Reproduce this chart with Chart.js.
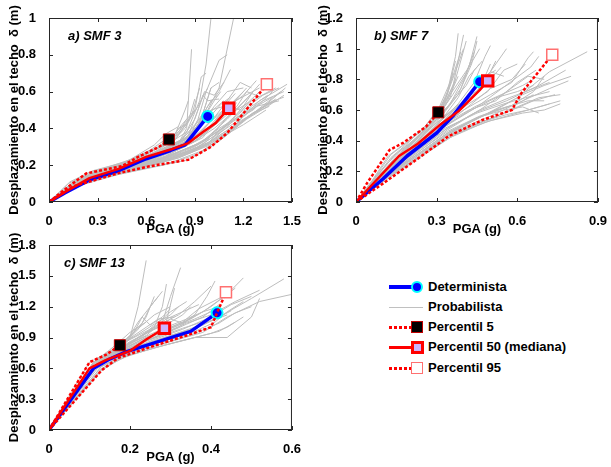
<!DOCTYPE html>
<html>
<head>
<meta charset="utf-8">
<title>Desplazamiento en el techo vs PGA</title>
<script src="https://cdn.jsdelivr.net/npm/chart.js@4.4.0/dist/chart.umd.min.js"></script>
<style>
  body { margin: 0; background: #fff; width: 611px; height: 467px; position: relative; overflow: hidden;
         font-family: 'Liberation Sans', Arial, sans-serif; }
  canvas { position: absolute; }
  .lg { position: absolute; }
  .lg-text { position: absolute; left: 428px; font-weight: bold; font-size: 13px; line-height: 16px; color: #000; white-space: nowrap; }
  .dots { background: repeating-linear-gradient(90deg, #ff0000 0 3px, transparent 3px 5px); }
</style>
</head>
<body>
<canvas id="chartA" width="305" height="240" style="left:0;top:0"></canvas>
<canvas id="chartB" width="306" height="240" style="left:305px;top:0"></canvas>
<canvas id="chartC" width="305" height="237" style="left:0;top:230px"></canvas>

<!-- legend -->
<div class="lg" style="left:389px;top:285px;width:26px;height:4px;background:#0000ff"></div>
<div class="lg" style="left:411px;top:281px;width:8px;height:8px;border:2px solid #00ffff;border-radius:50%;background:#0000ff"></div>
<div class="lg-text" style="top:279px">Determinista</div>

<div class="lg" style="left:389px;top:307px;width:34px;height:1px;background:#c0c0c0"></div>
<div class="lg-text" style="top:299px">Probabilista</div>

<div class="lg dots" style="left:389px;top:326px;width:22px;height:2.5px"></div>
<div class="lg" style="left:411px;top:321px;width:10px;height:10px;border:1px solid #c00000;background:#000"></div>
<div class="lg-text" style="top:319px">Percentil 5</div>

<div class="lg" style="left:389px;top:346px;width:22px;height:2.5px;background:#ff0000"></div>
<div class="lg" style="left:411px;top:341px;width:7px;height:7px;border:3px solid #ff0000;background:#ccb3ff"></div>
<div class="lg-text" style="top:339px">Percentil 50 (mediana)</div>

<div class="lg dots" style="left:389px;top:367px;width:22px;height:2.5px"></div>
<div class="lg" style="left:411px;top:362px;width:10px;height:10px;border:1.5px solid #ff7070;background:#fff"></div>
<div class="lg-text" style="top:360px">Percentil 95</div>

<script>
// ---------- a) SMF 3 ----------
const detA_x = [0, 0.1, 0.25, 0.43, 0.6, 0.75, 0.84, 0.98];
const detA_y = [0, 0.05, 0.12, 0.17, 0.235, 0.28, 0.31, 0.465];
const medA_x = [0, 0.1, 0.25, 0.43, 0.6, 0.75, 0.86, 0.95, 1.03, 1.11];
const medA_y = [0, 0.055, 0.13, 0.18, 0.245, 0.285, 0.32, 0.38, 0.43, 0.51];
const p5A_x = [0, 0.1, 0.23, 0.45, 0.55, 0.68, 0.74];
const p5A_y = [0, 0.07, 0.155, 0.195, 0.245, 0.3, 0.34];
const p95A_x = [0, 0.15, 0.43, 0.62, 0.86, 1.0, 1.1, 1.185, 1.345];
const p95A_y = [0, 0.085, 0.157, 0.194, 0.23, 0.3, 0.375, 0.465, 0.64];
const probA = [
  [[0,0],[0.2,0.13],[0.4,0.18],[0.6,0.25],[0.8,0.32],[0.85,0.4],[0.88,0.83]],
  [[0,0],[0.22,0.14],[0.45,0.19],[0.65,0.27],[0.85,0.38],[0.93,0.55],[0.97,0.75],[1.0,1.0]],
  [[0,0],[0.2,0.12],[0.42,0.17],[0.62,0.24],[0.85,0.33],[0.98,0.5],[1.05,0.62],[1.14,1.0]],
  [[0,0],[0.25,0.14],[0.5,0.2],[0.7,0.27],[0.9,0.37],[0.95,0.48],[1.0,0.62]],
  [[0,0],[0.2,0.11],[0.45,0.17],[0.7,0.24],[0.92,0.34],[1.05,0.47],[1.2,0.6]],
  [[0,0],[0.2,0.12],[0.43,0.16],[0.7,0.22],[0.95,0.3],[1.15,0.42],[1.3,0.55],[1.47,0.64]],
  [[0,0],[0.22,0.12],[0.45,0.17],[0.75,0.23],[1.0,0.32],[1.2,0.44],[1.43,0.6]],
  [[0,0],[0.18,0.11],[0.42,0.16],[0.68,0.22],[0.95,0.3],[1.1,0.38],[1.3,0.5],[1.4,0.56]],
  [[0,0],[0.25,0.15],[0.45,0.2],[0.62,0.27],[0.75,0.33],[0.8,0.4],[0.85,0.42]],
  [[0,0],[0.22,0.13],[0.45,0.18],[0.68,0.26],[0.88,0.36],[0.98,0.52],[1.05,0.6],[1.12,0.72]],
  [[0,0],[0.2,0.12],[0.4,0.17],[0.66,0.25],[0.9,0.34],[1.02,0.46],[1.15,0.55],[1.3,0.62]],
  [[0,0],[0.22,0.12],[0.47,0.18],[0.72,0.25],[0.95,0.35],[1.08,0.5],[1.2,0.58],[1.28,0.66]],
  [[0,0],[0.21,0.13],[0.44,0.18],[0.66,0.26],[0.86,0.36],[0.92,0.5],[0.96,0.6],[1.02,0.58],[1.08,0.65]],
  [[0,0],[0.2,0.12],[0.43,0.17],[0.7,0.24],[0.94,0.32],[1.1,0.42],[1.25,0.52],[1.35,0.58]],
  [[0,0],[0.23,0.14],[0.46,0.19],[0.64,0.26],[0.82,0.34],[0.9,0.45],[0.95,0.58],[0.98,0.55],[1.05,0.56]],
  [[0,0],[0.2,0.12],[0.45,0.17],[0.72,0.24],[0.98,0.34],[1.12,0.48],[1.25,0.55],[1.4,0.62]],
  [[0,0],[0.22,0.13],[0.44,0.18],[0.65,0.25],[0.88,0.34],[1.0,0.44],[1.12,0.52],[1.18,0.5],[1.3,0.6]],
  [[0,0],[0.19,0.12],[0.4,0.17],[0.62,0.24],[0.8,0.31],[0.9,0.4],[0.97,0.47],[1.08,0.55]],
  [[0,0],[0.21,0.12],[0.43,0.17],[0.7,0.23],[0.9,0.3],[1.05,0.4],[1.18,0.47],[1.32,0.55],[1.45,0.6]],
  [[0,0],[0.23,0.14],[0.43,0.19],[0.63,0.25],[0.8,0.32],[0.9,0.42],[0.95,0.48],[1.0,0.62],[1.05,0.65]],
  [[0,0],[0.2,0.13],[0.42,0.18],[0.67,0.26],[0.87,0.35],[0.95,0.44],[1.0,0.5],[1.08,0.52],[1.15,0.59]],
  [[0,0],[0.22,0.12],[0.46,0.17],[0.75,0.24],[1.0,0.33],[1.15,0.45],[1.3,0.53],[1.38,0.57]],
  [[0,0],[0.15,0.11],[0.3,0.17],[0.5,0.23],[0.65,0.31],[0.72,0.37],[0.8,0.41]],
  [[0,0],[0.2,0.12],[0.45,0.18],[0.7,0.26],[0.86,0.34],[0.92,0.45],[0.97,0.6],[1.05,0.77],[1.1,0.8]],
  [[0,0],[0.21,0.12],[0.43,0.17],[0.68,0.25],[0.9,0.35],[1.03,0.47],[1.1,0.55],[1.18,0.65],[1.25,0.62]],
  [[0,0],[0.15,0.1],[0.3,0.15],[0.5,0.2],[0.7,0.27],[0.85,0.35],[0.95,0.45],[1.02,0.55],[1.06,0.6]],
  [[0,0],[0.25,0.13],[0.5,0.18],[0.75,0.25],[0.95,0.33],[1.1,0.45],[1.22,0.56],[1.3,0.64]],
  [[0,0],[0.2,0.13],[0.4,0.19],[0.6,0.26],[0.78,0.34],[0.86,0.44],[0.92,0.52],[0.98,0.62]],
  [[0,0],[0.22,0.11],[0.5,0.17],[0.8,0.24],[1.05,0.33],[1.22,0.45],[1.35,0.52],[1.45,0.58]],
  [[0,0],[0.18,0.12],[0.38,0.18],[0.58,0.25],[0.76,0.33],[0.84,0.4],[0.9,0.5],[0.94,0.68],[0.97,0.7]],
  [[0,0],[0.24,0.14],[0.48,0.19],[0.7,0.26],[0.9,0.33],[1.0,0.4],[1.08,0.47],[1.16,0.54]],
  [[0,0],[0.2,0.12],[0.44,0.17],[0.66,0.24],[0.88,0.32],[1.02,0.4],[1.14,0.49],[1.24,0.58]],
  [[0,0],[0.23,0.13],[0.46,0.17],[0.72,0.23],[0.96,0.31],[1.12,0.4],[1.26,0.48],[1.36,0.52]],
  [[0,0],[0.21,0.13],[0.42,0.18],[0.64,0.25],[0.84,0.34],[0.94,0.42],[1.02,0.52],[1.1,0.6],[1.2,0.62]],
  [[0,0],[0.19,0.11],[0.41,0.16],[0.66,0.22],[0.9,0.29],[1.06,0.38],[1.18,0.45],[1.28,0.52],[1.42,0.55]],
  [[0,0],[0.22,0.14],[0.44,0.19],[0.62,0.26],[0.8,0.33],[0.88,0.39],[0.94,0.46],[1.0,0.55],[1.04,0.58]],
  [[0,0],[0.2,0.12],[0.45,0.18],[0.68,0.25],[0.9,0.33],[1.04,0.43],[1.16,0.52],[1.22,0.6],[1.28,0.58]],
  [[0,0],[0.16,0.11],[0.35,0.17],[0.55,0.24],[0.72,0.32],[0.8,0.37],[0.86,0.44],[0.9,0.56]],
  [[0,0],[0.22,0.12],[0.45,0.17],[0.7,0.24],[0.92,0.31],[1.08,0.41],[1.2,0.5],[1.32,0.58],[1.42,0.62]],
  [[0,0],[0.2,0.13],[0.43,0.18],[0.66,0.26],[0.85,0.35],[0.93,0.43],[1.0,0.47],[1.06,0.53],[1.12,0.57]],
  [[0,0],[0.15,0.08],[0.43,0.15],[0.65,0.19],[0.86,0.23],[1.0,0.3],[1.12,0.38],[1.25,0.48],[1.4,0.55]],
  [[0,0],[0.2,0.1],[0.45,0.16],[0.7,0.2],[0.92,0.26],[1.05,0.34],[1.18,0.44],[1.3,0.5],[1.46,0.62]],
  [[0,0],[0.18,0.1],[0.42,0.16],[0.62,0.2],[0.82,0.25],[0.98,0.32],[1.1,0.42],[1.2,0.52],[1.26,0.6]],
  [[0,0],[0.2,0.11],[0.45,0.16],[0.66,0.21],[0.88,0.27],[1.02,0.36],[1.14,0.46],[1.24,0.54]],
  [[0,0],[0.16,0.09],[0.4,0.15],[0.6,0.19],[0.8,0.24],[0.96,0.3],[1.08,0.36],[1.2,0.42],[1.34,0.5]],
  [[0,0],[0.22,0.11],[0.48,0.16],[0.74,0.21],[0.95,0.28],[1.1,0.37],[1.22,0.46],[1.36,0.54],[1.45,0.57]],
  [[0,0],[0.12,0.1],[0.25,0.16],[0.45,0.21],[0.62,0.28],[0.72,0.34],[0.8,0.38],[0.85,0.45]],
  [[0,0],[0.14,0.1],[0.28,0.16],[0.5,0.22],[0.66,0.29],[0.76,0.35],[0.82,0.42],[0.9,0.5]],
  [[0,0],[0.13,0.11],[0.27,0.17],[0.48,0.22],[0.6,0.27],[0.7,0.31],[0.78,0.37],[0.84,0.5],[0.86,0.55]],
  [[0,0],[0.16,0.11],[0.32,0.17],[0.52,0.23],[0.68,0.3],[0.78,0.36],[0.88,0.47],[0.93,0.62]],
  [[0,0],[0.2,0.12],[0.44,0.17],[0.64,0.23],[0.84,0.3],[0.96,0.38],[1.06,0.46],[1.16,0.56],[1.22,0.62]],
  [[0,0],[0.21,0.12],[0.46,0.17],[0.68,0.23],[0.9,0.31],[1.04,0.38],[1.14,0.44],[1.26,0.5],[1.38,0.6]]
];

// ---------- b) SMF 7 ----------
const detB_x = [0, 0.1, 0.19, 0.3, 0.36, 0.46];
const detB_y = [0, 0.15, 0.3, 0.45, 0.56, 0.785];
const medB_x = [0, 0.08, 0.16, 0.23, 0.31, 0.38, 0.46, 0.49];
const medB_y = [0, 0.15, 0.3, 0.38, 0.5, 0.59, 0.73, 0.79];
const p5B_x = [0, 0.04, 0.125, 0.175, 0.26, 0.306];
const p5B_y = [0, 0.12, 0.34, 0.385, 0.49, 0.585];
const p95B_x = [0, 0.1, 0.22, 0.345, 0.47, 0.58, 0.615, 0.73];
const p95B_y = [0, 0.12, 0.27, 0.43, 0.535, 0.6, 0.71, 0.96];
const probB = [
  [[0,0],[0.1,0.2],[0.2,0.36],[0.3,0.55],[0.36,0.75],[0.4,1.09]],
  [[0,0],[0.1,0.19],[0.2,0.35],[0.3,0.52],[0.38,0.7],[0.43,0.9],[0.45,1.05]],
  [[0,0],[0.12,0.22],[0.22,0.4],[0.3,0.56],[0.34,0.72],[0.37,0.95],[0.38,1.1]],
  [[0,0],[0.1,0.18],[0.2,0.33],[0.32,0.52],[0.42,0.7],[0.5,0.85],[0.56,1.0]],
  [[0,0],[0.1,0.17],[0.2,0.31],[0.32,0.48],[0.45,0.62],[0.55,0.75],[0.65,0.88],[0.68,0.95]],
  [[0,0],[0.1,0.16],[0.22,0.3],[0.35,0.46],[0.48,0.57],[0.6,0.68],[0.72,0.85],[0.86,0.98]],
  [[0,0],[0.1,0.16],[0.22,0.29],[0.35,0.45],[0.5,0.56],[0.62,0.66],[0.72,0.74],[0.79,0.79]],
  [[0,0],[0.1,0.15],[0.22,0.28],[0.36,0.44],[0.5,0.53],[0.62,0.58],[0.7,0.6],[0.76,0.64]],
  [[0,0],[0.11,0.17],[0.22,0.31],[0.34,0.47],[0.46,0.6],[0.56,0.72],[0.64,0.82],[0.7,0.8]],
  [[0,0],[0.1,0.18],[0.2,0.33],[0.3,0.48],[0.4,0.62],[0.48,0.78],[0.52,0.92]],
  [[0,0],[0.09,0.2],[0.16,0.33],[0.24,0.44],[0.3,0.55],[0.34,0.66],[0.38,0.82]],
  [[0,0],[0.1,0.18],[0.2,0.33],[0.3,0.48],[0.42,0.6],[0.52,0.66],[0.6,0.78],[0.67,0.86]],
  [[0,0],[0.1,0.17],[0.21,0.32],[0.33,0.48],[0.45,0.58],[0.55,0.64],[0.63,0.68],[0.72,0.72]],
  [[0,0],[0.1,0.19],[0.2,0.35],[0.28,0.5],[0.35,0.64],[0.4,0.8],[0.43,0.93]],
  [[0,0],[0.11,0.19],[0.21,0.35],[0.31,0.52],[0.4,0.66],[0.46,0.78],[0.5,0.85],[0.55,0.82]],
  [[0,0],[0.1,0.17],[0.22,0.32],[0.34,0.48],[0.46,0.6],[0.57,0.68],[0.66,0.74],[0.72,0.78]],
  [[0,0],[0.1,0.16],[0.22,0.3],[0.36,0.45],[0.5,0.54],[0.6,0.62],[0.68,0.68],[0.76,0.7]],
  [[0,0],[0.1,0.2],[0.18,0.34],[0.26,0.47],[0.32,0.6],[0.36,0.7],[0.41,0.84],[0.44,0.98]],
  [[0,0],[0.1,0.18],[0.2,0.34],[0.31,0.5],[0.4,0.66],[0.46,0.74],[0.5,0.9]],
  [[0,0],[0.1,0.16],[0.22,0.3],[0.35,0.46],[0.47,0.56],[0.58,0.63],[0.66,0.72],[0.7,0.82]],
  [[0,0],[0.1,0.18],[0.2,0.34],[0.3,0.5],[0.38,0.64],[0.44,0.78],[0.48,0.95],[0.5,1.02]],
  [[0,0],[0.11,0.19],[0.22,0.36],[0.32,0.54],[0.38,0.68],[0.42,0.82],[0.46,0.9]],
  [[0,0],[0.1,0.17],[0.21,0.32],[0.32,0.48],[0.44,0.62],[0.54,0.7],[0.62,0.76],[0.66,0.8]],
  [[0,0],[0.1,0.2],[0.2,0.37],[0.28,0.52],[0.33,0.66],[0.36,0.82],[0.39,0.98]],
  [[0,0],[0.1,0.18],[0.2,0.33],[0.31,0.49],[0.41,0.63],[0.49,0.72],[0.55,0.86],[0.6,0.9]],
  [[0,0],[0.1,0.16],[0.21,0.3],[0.34,0.46],[0.46,0.56],[0.56,0.62],[0.64,0.66],[0.7,0.66]],
  [[0,0],[0.11,0.18],[0.22,0.33],[0.33,0.5],[0.43,0.64],[0.5,0.74],[0.58,0.8],[0.63,0.9]],
  [[0,0],[0.1,0.19],[0.21,0.36],[0.3,0.53],[0.36,0.66],[0.41,0.76],[0.44,0.86],[0.47,0.92]],
  [[0,0],[0.1,0.17],[0.2,0.32],[0.32,0.49],[0.43,0.6],[0.52,0.68],[0.6,0.72],[0.66,0.76]],
  [[0,0],[0.09,0.18],[0.18,0.34],[0.27,0.5],[0.34,0.62],[0.39,0.74],[0.42,0.88],[0.46,1.0]],
  [[0,0],[0.1,0.18],[0.2,0.34],[0.29,0.5],[0.37,0.62],[0.44,0.7],[0.5,0.8],[0.54,0.88]],
  [[0,0],[0.1,0.17],[0.21,0.31],[0.33,0.47],[0.44,0.58],[0.56,0.66],[0.68,0.76],[0.78,0.86]],
  [[0,0],[0.12,0.21],[0.22,0.38],[0.3,0.54],[0.35,0.68],[0.38,0.86],[0.41,1.05]],
  [[0,0],[0.1,0.18],[0.2,0.33],[0.31,0.5],[0.4,0.64],[0.45,0.72],[0.48,0.82],[0.52,0.86]],
  [[0,0],[0.1,0.13],[0.22,0.27],[0.35,0.42],[0.48,0.52],[0.6,0.58],[0.68,0.62],[0.76,0.66]],
  [[0,0],[0.1,0.14],[0.22,0.28],[0.34,0.43],[0.46,0.52],[0.56,0.57],[0.64,0.6],[0.72,0.64]],
  [[0,0],[0.1,0.14],[0.23,0.29],[0.36,0.43],[0.48,0.53],[0.58,0.6],[0.66,0.66],[0.74,0.7]],
  [[0,0],[0.1,0.15],[0.22,0.29],[0.34,0.44],[0.44,0.54],[0.52,0.6],[0.6,0.64],[0.66,0.7]],
  [[0,0],[0.11,0.15],[0.23,0.29],[0.35,0.45],[0.46,0.55],[0.54,0.62],[0.62,0.7],[0.7,0.76],[0.8,0.82]],
  [[0,0],[0.1,0.15],[0.22,0.3],[0.34,0.45],[0.45,0.55],[0.55,0.6],[0.62,0.62],[0.68,0.58]],
  [[0,0],[0.06,0.14],[0.12,0.3],[0.18,0.38],[0.25,0.48],[0.3,0.58],[0.34,0.7],[0.36,0.84]],
  [[0,0],[0.07,0.15],[0.13,0.29],[0.19,0.38],[0.26,0.5],[0.31,0.62],[0.35,0.78],[0.37,0.92]],
  [[0,0],[0.08,0.17],[0.14,0.3],[0.2,0.38],[0.27,0.5],[0.33,0.64],[0.37,0.8]],
  [[0,0],[0.07,0.16],[0.13,0.31],[0.2,0.4],[0.28,0.52],[0.33,0.66],[0.38,0.9],[0.4,1.0]],
  [[0,0],[0.08,0.16],[0.15,0.3],[0.22,0.41],[0.29,0.54],[0.35,0.7],[0.42,0.88],[0.45,1.08]],
  [[0,0],[0.1,0.17],[0.2,0.32],[0.3,0.47],[0.4,0.6],[0.5,0.7],[0.58,0.78],[0.64,0.94],[0.66,0.98]]
];

// ---------- c) SMF 13 ----------
const detC_x = [0, 0.11, 0.15, 0.19, 0.27, 0.35, 0.415];
const detC_y = [0, 0.6, 0.69, 0.76, 0.86, 0.96, 1.14];
const medC_x = [0, 0.1, 0.14, 0.2, 0.24, 0.285];
const medC_y = [0, 0.6, 0.68, 0.77, 0.88, 0.99];
const p5C_x = [0, 0.1, 0.14, 0.175];
const p5C_y = [0, 0.66, 0.73, 0.825];
const p95C_x = [0, 0.13, 0.17, 0.26, 0.34, 0.4, 0.415, 0.437];
const p95C_y = [0, 0.58, 0.7, 0.82, 0.92, 1.0, 1.14, 1.34];
const probC = [
  [[0,0],[0.12,0.66],[0.17,0.78],[0.2,0.9],[0.22,1.2],[0.24,1.65]],
  [[0,0],[0.12,0.65],[0.18,0.8],[0.24,0.92],[0.28,1.05],[0.3,1.3],[0.325,1.58]],
  [[0,0],[0.11,0.64],[0.16,0.76],[0.22,0.88],[0.26,1.0],[0.28,1.2],[0.29,1.42]],
  [[0,0],[0.12,0.64],[0.18,0.78],[0.25,0.9],[0.32,1.02],[0.38,1.15],[0.44,1.32],[0.48,1.48]],
  [[0,0],[0.12,0.63],[0.18,0.76],[0.27,0.88],[0.35,0.98],[0.42,1.1],[0.5,1.28],[0.58,1.47]],
  [[0,0],[0.13,0.62],[0.2,0.75],[0.3,0.86],[0.38,0.95],[0.44,1.1],[0.52,1.25],[0.6,1.32]],
  [[0,0],[0.13,0.6],[0.2,0.73],[0.3,0.84],[0.36,0.9],[0.44,0.9],[0.5,1.1],[0.52,1.28]],
  [[0,0],[0.12,0.64],[0.18,0.78],[0.24,0.9],[0.3,1.0],[0.35,1.08],[0.4,1.2],[0.46,1.38]],
  [[0,0],[0.11,0.65],[0.15,0.75],[0.19,0.86],[0.22,0.98],[0.24,1.1],[0.26,1.3]],
  [[0,0],[0.12,0.65],[0.17,0.77],[0.22,0.9],[0.27,1.02],[0.32,1.12],[0.36,1.25],[0.4,1.4]],
  [[0,0],[0.12,0.63],[0.19,0.77],[0.26,0.88],[0.33,0.98],[0.4,1.1],[0.45,1.22],[0.5,1.3]],
  [[0,0],[0.12,0.64],[0.18,0.79],[0.23,0.92],[0.27,1.05],[0.3,1.15],[0.34,1.25]],
  [[0,0],[0.11,0.66],[0.15,0.76],[0.2,0.88],[0.25,0.98],[0.29,1.08],[0.33,1.15],[0.37,1.22]],
  [[0,0],[0.12,0.64],[0.19,0.78],[0.27,0.92],[0.34,1.04],[0.4,1.12],[0.46,1.25],[0.52,1.36]],
  [[0,0],[0.13,0.62],[0.2,0.76],[0.28,0.86],[0.36,0.96],[0.41,1.05],[0.44,1.15],[0.48,1.25]],
  [[0,0],[0.12,0.65],[0.18,0.8],[0.21,0.95],[0.23,1.1],[0.25,1.02],[0.28,1.1],[0.3,1.18]],
  [[0,0],[0.12,0.64],[0.17,0.79],[0.2,0.92],[0.22,1.05],[0.26,1.25],[0.28,1.35]],
  [[0,0],[0.12,0.63],[0.18,0.77],[0.26,0.9],[0.32,1.0],[0.36,1.12],[0.39,1.3],[0.41,1.45]],
  [[0,0],[0.12,0.65],[0.17,0.78],[0.22,0.9],[0.26,0.98],[0.3,1.05],[0.33,1.12],[0.35,1.2]],
  [[0,0],[0.12,0.64],[0.18,0.78],[0.23,0.88],[0.28,0.96],[0.32,1.02],[0.36,1.08],[0.4,1.15]],
  [[0,0],[0.11,0.65],[0.16,0.78],[0.2,0.92],[0.23,1.02],[0.26,1.12],[0.3,1.2]],
  [[0,0],[0.12,0.63],[0.19,0.76],[0.26,0.86],[0.32,0.94],[0.38,1.02],[0.42,1.1],[0.45,1.16]],
  [[0,0],[0.12,0.65],[0.17,0.8],[0.21,0.92],[0.24,1.0],[0.27,1.08],[0.31,1.1]],
  [[0,0],[0.12,0.64],[0.18,0.77],[0.24,0.87],[0.3,0.96],[0.34,1.03],[0.38,1.1],[0.42,1.22]],
  [[0,0],[0.11,0.66],[0.15,0.78],[0.18,0.88],[0.2,0.95],[0.22,1.0],[0.24,1.05]],
  [[0,0],[0.12,0.64],[0.18,0.79],[0.24,0.9],[0.29,0.98],[0.33,1.05],[0.37,1.18],[0.43,1.3]],
  [[0,0],[0.13,0.58],[0.18,0.7],[0.26,0.8],[0.34,0.88],[0.4,0.94],[0.44,1.0],[0.48,1.1]],
  [[0,0],[0.13,0.59],[0.18,0.71],[0.28,0.82],[0.36,0.9],[0.42,0.96],[0.46,1.05]],
  [[0,0],[0.12,0.6],[0.18,0.72],[0.28,0.84],[0.36,0.94],[0.42,1.04],[0.46,1.14],[0.5,1.2]],
  [[0,0],[0.11,0.66],[0.15,0.74],[0.2,0.85],[0.24,0.95],[0.28,1.02],[0.3,1.08],[0.33,1.04],[0.36,1.12]],
  [[0,0],[0.1,0.66],[0.14,0.74],[0.18,0.84],[0.22,0.93],[0.26,1.03],[0.3,1.12],[0.32,1.2]],
  [[0,0],[0.12,0.64],[0.17,0.77],[0.21,0.86],[0.25,0.93],[0.29,1.0],[0.34,1.08],[0.38,1.15],[0.42,1.2]],
  [[0,0],[0.12,0.62],[0.18,0.75],[0.24,0.84],[0.3,0.92],[0.36,1.0],[0.4,1.06],[0.44,1.12]],
  [[0,0],[0.11,0.64],[0.16,0.76],[0.2,0.86],[0.24,0.94],[0.27,1.0],[0.29,1.06],[0.31,1.38]],
  [[0,0],[0.12,0.63],[0.18,0.76],[0.23,0.85],[0.28,0.92],[0.33,0.99],[0.37,1.04],[0.41,1.1]],
  [[0,0],[0.12,0.65],[0.16,0.77],[0.19,0.87],[0.21,0.96],[0.23,1.04],[0.25,1.2],[0.27,1.3]]
];

const GRAY = '#bdbdbd';
const FONT = "'Liberation Sans', Arial, sans-serif";
const Y_TITLE = 'Desplazamiento en el techo  δ (m)';

function toPoints(xs, ys) {
  return xs.map((x, i) => ({ x: x, y: ys[i] }));
}

// marker only on the last point of a curve
function lastOnly(r) {
  return ctx => ctx.dataIndex === ctx.dataset.data.length - 1 ? r : 0;
}

function fmt(v) {
  return String(+v.toFixed(2));
}

// axes box, inward ticks and panel label
const framePlugin = {
  id: 'frame',
  afterDraw(chart, args, opts) {
    const { ctx, chartArea: a, scales } = chart;
    ctx.save();
    ctx.strokeStyle = '#262626';
    ctx.lineWidth = 1;
    ctx.strokeRect(a.left + 0.5, a.top + 0.5, a.right - a.left - 1, a.bottom - a.top - 1);
    ctx.beginPath();
    scales.x.ticks.forEach(t => {
      const px = Math.round(scales.x.getPixelForValue(t.value)) + 0.5;
      ctx.moveTo(px, a.bottom); ctx.lineTo(px, a.bottom - 4);
      ctx.moveTo(px, a.top); ctx.lineTo(px, a.top + 4);
    });
    scales.y.ticks.forEach(t => {
      const py = Math.round(scales.y.getPixelForValue(t.value)) + 0.5;
      ctx.moveTo(a.left, py); ctx.lineTo(a.left + 4, py);
      ctx.moveTo(a.right, py); ctx.lineTo(a.right - 4, py);
    });
    ctx.stroke();
    ctx.fillStyle = '#000';
    ctx.font = 'italic bold 13px ' + FONT;
    ctx.textBaseline = 'middle';
    ctx.fillText(opts.text, a.left + opts.dx, a.top + opts.dy);
    ctx.restore();
  }
};

function buildChart(id, c) {
  const datasets = [];
  c.prob.forEach(curve => {
    datasets.push({
      data: curve.map(p => ({ x: p[0], y: p[1] })),
      showLine: true, borderColor: GRAY, borderWidth: 1, pointRadius: 0, order: 10
    });
  });
  datasets.push({
    data: toPoints(c.det[0], c.det[1]), showLine: true,
    borderColor: '#0000ff', borderWidth: 3.5, borderJoinStyle: 'round', borderCapStyle: 'round',
    pointStyle: 'circle', pointRadius: lastOnly(5.5), pointBorderWidth: 2,
    pointBackgroundColor: '#0000ff', pointBorderColor: '#00ffff', order: 4
  });
  datasets.push({
    data: toPoints(c.p5[0], c.p5[1]), showLine: true,
    borderColor: '#ff0000', borderWidth: 2.5, borderDash: [3, 2],
    pointStyle: 'rect', pointRadius: lastOnly(7.8), pointBorderWidth: 1,
    pointBackgroundColor: '#000000', pointBorderColor: '#c00000', order: 3
  });
  datasets.push({
    data: toPoints(c.med[0], c.med[1]), showLine: true,
    borderColor: '#ff0000', borderWidth: 2.5, borderJoinStyle: 'round',
    pointStyle: 'rect', pointRadius: lastOnly(7.4), pointBorderWidth: 3,
    pointBackgroundColor: '#ccb3ff', pointBorderColor: '#ff0000', order: 2
  });
  datasets.push({
    data: toPoints(c.p95[0], c.p95[1]), showLine: true,
    borderColor: '#ff0000', borderWidth: 2.5, borderDash: [3, 2],
    pointStyle: 'rect', pointRadius: lastOnly(7.8), pointBorderWidth: 1.5,
    pointBackgroundColor: '#ffffff', pointBorderColor: '#ff7070', order: 1
  });

  const tickFont = { family: FONT, size: 13, weight: 'bold' };
  new Chart(document.getElementById(id), {
    type: 'scatter',
    data: { datasets: datasets },
    plugins: [framePlugin],
    options: {
      responsive: false,
      animation: false,
      events: [],
      elements: { line: { tension: 0 } },
      layout: { padding: { left: 0, top: c.top, right: c.right, bottom: 0 } },
      plugins: {
        legend: { display: false },
        tooltip: { enabled: false },
        frame: { text: c.label, dx: c.labelDx, dy: 18.5 }
      },
      scales: {
        x: {
          type: 'linear', min: 0, max: c.xMax,
          grid: { display: false }, border: { display: false },
          ticks: { stepSize: c.xStep, color: '#000', font: tickFont, padding: 4,
                   maxRotation: 0, autoSkip: false, callback: fmt },
          title: { display: true, text: 'PGA (g)', color: '#000', font: tickFont,
                   padding: { top: 0, bottom: c.xTitlePad } },
          afterFit: s => { s.height = c.xH; }
        },
        y: {
          type: 'linear', min: 0, max: c.yMax,
          grid: { display: false }, border: { display: false },
          ticks: { stepSize: c.yStep, color: '#000', font: tickFont, padding: 5,
                   autoSkip: false, callback: fmt },
          title: { display: true, text: Y_TITLE, color: '#000', font: tickFont,
                   padding: { top: c.yTitlePad, bottom: 0 } },
          afterFit: s => { s.width = c.yW; }
        }
      }
    }
  });
}

buildChart('chartA', {
  prob: probA, det: [detA_x, detA_y], med: [medA_x, medA_y], p5: [p5A_x, p5A_y], p95: [p95A_x, p95A_y],
  label: 'a) SMF 3', labelDx: 19,
  xMax: 1.5, xStep: 0.3, yMax: 1, yStep: 0.2,
  top: 18, right: 11, xH: 38, yW: 49, xTitlePad: 3.2, yTitlePad: 6.7
});
buildChart('chartB', {
  prob: probB, det: [detB_x, detB_y], med: [medB_x, medB_y], p5: [p5B_x, p5B_y], p95: [p95B_x, p95B_y],
  label: 'b) SMF 7', labelDx: 18,
  xMax: 0.9, xStep: 0.3, yMax: 1.2, yStep: 0.2,
  top: 18, right: 10, xH: 38, yW: 51, xTitlePad: 3.2, yTitlePad: 10.7
});
buildChart('chartC', {
  prob: probC, det: [detC_x, detC_y], med: [medC_x, medC_y], p5: [p5C_x, p5C_y], p95: [p95C_x, p95C_y],
  label: 'c) SMF 13', labelDx: 15,
  xMax: 0.6, xStep: 0.2, yMax: 1.8, yStep: 0.3,
  top: 15, right: 11, xH: 37, yW: 49, xTitlePad: 2.2, yTitlePad: 6.7
});
</script>
</body>
</html>
